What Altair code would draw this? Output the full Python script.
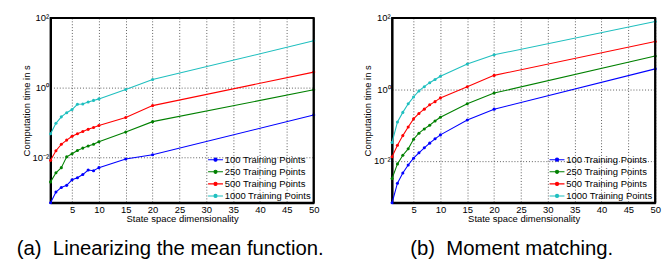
import altair as alt
import pandas as pd

# ---------------- data ----------------
dims = [1, 2, 3, 4, 5, 6, 7, 8, 9, 10, 15, 20, 50]
series_names = ["100 Training Points", "250 Training Points",
                "500 Training Points", "1000 Training Points"]
series_colors = ["#0000ff", "#008000", "#ff0000", "#1fbfbf"]

# (a) Linearizing the mean function -- computation time in s
lin_100 = [4.9e-4, 1.0e-3, 1.35e-3, 1.55e-3, 2.24e-3, 2.57e-3, 3.16e-3,
           4.27e-3, 4.07e-3, 5.0e-3, 8.9e-3, 1.17e-2, 0.164]
lin_250 = [1.95e-3, 3.55e-3, 5.0e-3, 1.02e-2, 1.26e-2, 1.55e-2, 1.82e-2,
           2.09e-2, 2.34e-2, 2.78e-2, 5.25e-2, 0.105, 0.863]
lin_500 = [8.1e-3, 1.53e-2, 2.34e-2, 3.09e-2, 3.98e-2, 4.73e-2, 5.5e-2,
           6.3e-2, 7.1e-2, 8.1e-2, 0.138, 0.303, 2.78]
lin_1000 = [4.73e-2, 9.4e-2, 0.144, 0.190, 0.234, 0.330, 0.337,
            0.383, 0.428, 0.473, 0.879, 1.70, 22.0]

# (b) Moment matching -- computation time in s
mm_100 = [6.8e-4, 2.4e-3, 4.62e-3, 7.76e-3, 1.20e-2, 1.70e-2, 2.34e-2,
          3.16e-2, 4.17e-2, 5.37e-2, 0.141, 0.282, 3.77]
mm_250 = [3.24e-3, 8.3e-3, 1.45e-2, 2.19e-2, 4.07e-2, 6.0e-2, 7.9e-2,
          0.100, 0.132, 0.167, 0.398, 0.794, 8.6]
mm_500 = [1.32e-2, 2.75e-2, 5.13e-2, 8.9e-2, 0.151, 0.214, 0.282,
          0.372, 0.457, 0.582, 1.20, 2.48, 21.9]
mm_1000 = [3.31e-2, 0.123, 0.229, 0.398, 0.617, 0.912, 1.20,
           1.55, 1.91, 2.34, 5.13, 9.33, 79.4]

x_ticks = [5, 10, 15, 20, 25, 30, 35, 40, 45, 50]
y_ticks = [0.01, 1, 100]
y_min = [4.9e-4, 6.8e-4]
y_max = 100
captions = ["(a)\u00a0 Linearizing the mean function.", "(b)\u00a0 Moment matching."]
x_title = "State space dimensionality"
y_title = "Computation time in s"

FONT = "Liberation Sans"
W, H = 272, 191
LEGEND_PATH = "M-1.4 0L1.4 0M-0.3 0A0.3 0.3 0 1 1 0.3 0A0.3 0.3 0 1 1 -0.3 0"


def panel(lists, ymin, caption):
    rows = []
    for name, vals in zip(series_names, lists):
        for d, v in zip(dims, vals):
            rows.append({"dim": d, "time": v, "series": name})
    df = pd.DataFrame(rows)

    x = alt.X("dim:Q",
              scale=alt.Scale(domain=[1, 50], nice=False, zero=False),
              axis=alt.Axis(values=x_ticks, title=x_title, labelFlush=False,
                            labelOverlap=False, ticks=False,
                            domain=True, domainColor="black", domainWidth=2,
                            labelPadding=2, titlePadding=0))
    y = alt.Y("time:Q",
              scale=alt.Scale(type="log", domain=[ymin, y_max], nice=False),
              axis=alt.Axis(values=y_ticks, title=y_title, labelFlush=False,
                            labelOverlap=False, ticks=False,
                            domain=True, domainColor="black", domainWidth=2,
                            labelPadding=2, titlePadding=1,
                            labelExpr="datum.value > 50 ? '10\u00b2' : "
                                      "(datum.value > 0.5 ? '10\u2070' : '10\u207b\u00b2')"))
    cscale = alt.Scale(domain=series_names, range=series_colors)
    leg = alt.Legend(title=None, orient="bottom-right", offset=2, padding=0,
                     symbolType=LEGEND_PATH, symbolSize=121,
                     symbolStrokeWidth=1.1,
                     rowPadding=0.5, labelOffset=3,
                     labelFontSize=9.75, labelFont=FONT, labelColor="black")

    lines = alt.Chart(df).mark_line(
        strokeWidth=1.1,
        point=alt.OverlayMarkDef(filled=True, size=10)
    ).encode(
        x=x, y=y,
        color=alt.Color("series:N", scale=cscale, legend=leg),
        order="dim:Q")

    top_edge = alt.Chart(pd.DataFrame({"k": [0]})).mark_rule(
        color="black", strokeWidth=2
    ).encode(x=alt.value(0), x2=alt.value(W), y=alt.value(0))
    right_edge = alt.Chart(pd.DataFrame({"k": [0]})).mark_rule(
        color="black", strokeWidth=2
    ).encode(x=alt.value(W), y=alt.value(0), y2=alt.value(H))

    return alt.layer(lines, top_edge, right_edge).properties(
        width=W, height=H,
        title=alt.TitleParams(caption, orient="bottom", anchor="middle",
                              frame="bounds", fontSize=21,
                              fontWeight="normal", font=FONT, color="black",
                              offset=15))


left = panel([lin_100, lin_250, lin_500, lin_1000], y_min[0], captions[0])
right = panel([mm_100, mm_250, mm_500, mm_1000], y_min[1], captions[1])

chart = alt.hconcat(left, right, spacing=37).resolve_scale(
    color="independent"
).resolve_legend(
    color="independent"
).properties(
    padding={"left": 7, "top": 0, "right": 0, "bottom": 0}
).configure_view(
    stroke="black", strokeWidth=2
).configure_axis(
    labelFont=FONT, titleFont=FONT, labelFontSize=9.75, titleFontSize=9.75,
    labelColor="black", titleColor="black", titleFontWeight="normal",
    grid=True, gridColor="#444444", gridDash=[1, 2], gridWidth=0.9,
    gridOpacity=1
)

chart.save("out.html", embed_options={"renderer": "svg", "actions": False})
